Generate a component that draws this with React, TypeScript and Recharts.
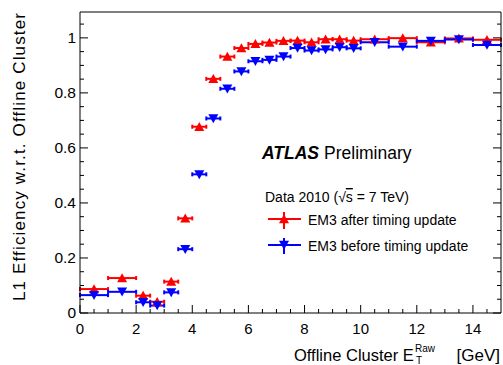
import { ComposedChart, Customized, ErrorBar, Scatter, XAxis, YAxis } from "recharts"

// bin edges in offline cluster E_T (GeV)
const binLow = [0, 1, 2, 2.5, 3, 3.5, 4, 4.5, 5, 5.5, 6, 6.5, 7, 7.5, 8, 8.5, 9, 9.5, 10, 11, 12, 13, 14]
const binHigh = [1, 2, 2.5, 3, 3.5, 4, 4.5, 5, 5.5, 6, 6.5, 7, 7.5, 8, 8.5, 9, 9.5, 10, 11, 12, 13, 14, 15]

// EM3 efficiency, after / before the timing update
const effAfter = [
  0.087, 0.127, 0.063, 0.041, 0.114, 0.344, 0.677, 0.851, 0.932, 0.963, 0.978, 0.983,
  0.989, 0.99, 0.984, 0.995, 0.995, 0.99, 0.995, 0.999, 0.984, 0.998, 0.993,
]
const effBefore = [
  0.065, 0.077, 0.039, 0.027, 0.075, 0.232, 0.504, 0.707, 0.815, 0.878, 0.915, 0.92,
  0.932, 0.963, 0.954, 0.958, 0.966, 0.962, 0.984, 0.968, 0.989, 0.994, 0.974,
]

const xMajor = [0, 2, 4, 6, 8, 10, 12, 14]
const xTicks = [
  0, 0.5, 1, 1.5, 2, 2.5, 3, 3.5, 4, 4.5, 5, 5.5, 6, 6.5, 7, 7.5, 8, 8.5, 9, 9.5, 10, 10.5, 11, 11.5,
  12, 12.5, 13, 13.5, 14, 14.5,
]
const yMajor = [0, 0.2, 0.4, 0.6, 0.8, 1]
const yMajorLabels = ["0", "0.2", "0.4", "0.6", "0.8", "1"]
const yTicks = [
  0, 0.05, 0.1, 0.15, 0.2, 0.25, 0.3, 0.35, 0.4, 0.45, 0.5, 0.55, 0.6, 0.65, 0.7, 0.75, 0.8, 0.85,
  0.9, 0.95, 1, 1.05,
]

const toPoints = (eff: number[]) =>
  eff.map((v, i) => ({
    x: (binLow[i] + binHigh[i]) / 2,
    y: v,
    xerr: (binHigh[i] - binLow[i]) / 2,
  }))

const afterData = toPoints(effAfter)
const beforeData = toPoints(effBefore)

const FONT = "'Liberation Sans', Arial, Helvetica, sans-serif"
const RED = "#ff0000"
const BLUE = "#0000ff"

const isMajorY = (v: number) => yMajor.findIndex((m) => Math.abs(m - v) < 1e-6)

const BottomTick = (props: any) => {
  const { x, y, payload } = props
  const major = xMajor.includes(payload.value)
  return (
    <g>
      <line x1={x} x2={x} y1={y} y2={y - (major ? 8 : 4)} stroke="#000" />
      {major && (
        <text x={x} y={y + 21} textAnchor="middle" fontSize={15} fontFamily={FONT} fill="#000">
          {payload.value}
        </text>
      )}
    </g>
  )
}

const TopTick = (props: any) => {
  const { x, y, payload } = props
  const major = xMajor.includes(payload.value)
  return <line x1={x} x2={x} y1={y} y2={y + (major ? 8 : 4)} stroke="#000" />
}

const LeftTick = (props: any) => {
  const { x, y, payload } = props
  const idx = isMajorY(payload.value)
  return (
    <g>
      <line x1={x} x2={x + (idx >= 0 ? 8 : 4)} y1={y} y2={y} stroke="#000" />
      {idx >= 0 && (
        <text x={x - 4} y={y + 5} textAnchor="end" fontSize={15.5} fontFamily={FONT} fill="#000">
          {yMajorLabels[idx]}
        </text>
      )}
    </g>
  )
}

const RightTick = (props: any) => {
  const { x, y, payload } = props
  const idx = isMajorY(payload.value)
  return <line x1={x} x2={x - (idx >= 0 ? 8 : 4)} y1={y} y2={y} stroke="#000" />
}

const UpTriangle = (props: any) => {
  const { cx, cy, fill } = props
  return <path d={`M${cx},${cy - 4.8} L${cx + 5},${cy + 4.2} L${cx - 5},${cy + 4.2} Z`} fill={fill} />
}

const DownTriangle = (props: any) => {
  const { cx, cy, fill } = props
  return <path d={`M${cx},${cy + 4.8} L${cx + 5},${cy - 4.2} L${cx - 5},${cy - 4.2} Z`} fill={fill} />
}

const Annotations = () => (
  <g fontFamily={FONT} fill="#000">
    {/* axis titles */}
    <text
      x={25}
      y={13}
      transform="rotate(-90 25 13)"
      textAnchor="end"
      fontSize={17}
      textLength={288}
      lengthAdjust="spacing"
    >
      L1 Efficiency w.r.t. Offline Cluster
    </text>
    <text x={294} y={361} fontSize={16.5}>
      Offline Cluster E
    </text>
    <text x={415} y={351.5} fontSize={10}>
      Raw
    </text>
    <text x={416} y={364} fontSize={10}>
      T
    </text>
    <text x={500} y={361} fontSize={17} textAnchor="end">
      [GeV]
    </text>

    <text x={262} y={159} fontSize={17.5}>
      <tspan fontWeight="bold" fontStyle="italic">
        ATLAS
      </tspan>
      <tspan dx={5}>Preliminary</tspan>
    </text>
    <text x={265} y={202} fontSize={14}>
      Data 2010 (√<tspan textDecoration="overline">s</tspan> = 7 TeV)
    </text>

    {/* legend */}
    <line x1={268} x2={301} y1={219} y2={219} stroke={RED} strokeWidth={2} />
    <line x1={284} x2={284} y1={212} y2={229} stroke={RED} strokeWidth={2} />
    <UpTriangle cx={284} cy={219} fill={RED} />
    <text x={308} y={225} fontSize={14}>
      EM3 after timing update
    </text>
    <line x1={268} x2={301} y1={245} y2={245} stroke={BLUE} strokeWidth={2} />
    <line x1={284} x2={284} y1={238} y2={254} stroke={BLUE} strokeWidth={2} />
    <DownTriangle cx={284} cy={245} fill={BLUE} />
    <text x={308} y={251} fontSize={14}>
      EM3 before timing update
    </text>
  </g>
)

export default function App() {
  return (
    <div style={{ position: "absolute", left: 0, top: 0, width: 503, height: 365, background: "#fff" }}>
      <ComposedChart width={503} height={365} margin={{ top: 11, right: 1, bottom: 51, left: 79 }}>
        <XAxis
          type="number"
          dataKey="x"
          domain={[0, 15]}
          ticks={xTicks}
          interval={0}
          height={1}
          tickSize={0}
          tickMargin={0}
          tick={<BottomTick />}
          axisLine={{ stroke: "#000" }}
          allowDataOverflow
        />
        <XAxis
          xAxisId="top"
          orientation="top"
          type="number"
          domain={[0, 15]}
          ticks={xTicks}
          interval={0}
          height={1}
          tickSize={0}
          tickMargin={0}
          tick={<TopTick />}
          axisLine={{ stroke: "#000" }}
          allowDataOverflow
        />
        <YAxis
          type="number"
          dataKey="y"
          domain={[0, 1.094]}
          ticks={yTicks}
          interval={0}
          width={1}
          tickSize={0}
          tickMargin={0}
          tick={<LeftTick />}
          axisLine={{ stroke: "#000" }}
          allowDataOverflow
        />
        <YAxis
          yAxisId="right"
          orientation="right"
          type="number"
          domain={[0, 1.094]}
          ticks={yTicks}
          interval={0}
          width={1}
          tickSize={0}
          tickMargin={0}
          tick={<RightTick />}
          axisLine={{ stroke: "#000" }}
          allowDataOverflow
        />
        <Scatter data={afterData} fill={RED} shape={<UpTriangle />} isAnimationActive={false}>
          <ErrorBar dataKey="xerr" direction="x" width={2} stroke={RED} strokeWidth={2} isAnimationActive={false} />
        </Scatter>
        <Scatter data={beforeData} fill={BLUE} shape={<DownTriangle />} isAnimationActive={false}>
          <ErrorBar dataKey="xerr" direction="x" width={2} stroke={BLUE} strokeWidth={2} isAnimationActive={false} />
        </Scatter>
        <Customized component={<Annotations />} />
      </ComposedChart>
    </div>
  )
}
